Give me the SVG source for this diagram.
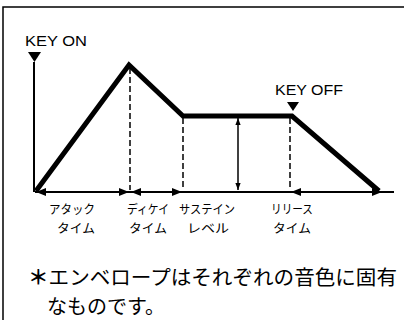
<svg xmlns="http://www.w3.org/2000/svg" width="404" height="320" viewBox="0 0 404 320">
  <style>
    .frame { fill: none; stroke: #000; stroke-width: 1.5; }
    .env { fill: none; stroke: #000; stroke-width: 5; stroke-linejoin: miter; stroke-linecap: butt; }
    .axis { fill: none; stroke: #000; stroke-width: 2; }
    .dash { fill: none; stroke: #000; stroke-width: 1.5; stroke-dasharray: 6 3; }
    .span { fill: none; stroke: #000; stroke-width: 2; marker-start: url(#ah); marker-end: url(#ah); }
    .vspan { fill: none; stroke: #000; stroke-width: 1.5; marker-start: url(#ahs); marker-end: url(#ahs); }
    .key { font-family: "Liberation Sans", "DejaVu Sans", sans-serif; font-size: 15px; fill: #000; }
    .lbl { font-family: "Noto Sans CJK JP", sans-serif; font-size: 12.5px; fill: #000; text-anchor: middle; }
    .note { font-family: "Noto Sans CJK JP", sans-serif; font-size: 20px; fill: #000; }
    .tri { fill: #000; }
  </style>
  <defs>
    <marker id="ah" viewBox="0 0 10 8" refX="10" refY="4" markerWidth="10" markerHeight="8" markerUnits="userSpaceOnUse" orient="auto-start-reverse">
      <path d="M0,0 L10,4 L0,8 z" fill="#000"/>
    </marker>
    <marker id="ahs" viewBox="0 0 8 8" refX="8" refY="4" markerWidth="7" markerHeight="7" markerUnits="userSpaceOnUse" orient="auto-start-reverse">
      <path d="M0,1 L8,4 L0,7 z" fill="#000"/>
    </marker>
  </defs>

  <g id="frame">
    <path class="frame" d="M3,320 L3,7 L404,7"/>
  </g>

  <g id="key-on">
    <text class="key" x="25" y="46" textLength="62" lengthAdjust="spacingAndGlyphs">KEY ON</text>
    <polygon class="tri" points="28,52 41,52 34.5,62"/>
  </g>

  <g id="key-off">
    <text class="key" x="275" y="95" textLength="68" lengthAdjust="spacingAndGlyphs">KEY OFF</text>
    <polygon class="tri" points="287,102 299,102 293,111"/>
  </g>

  <g id="envelope">
    <polyline class="env" points="36,191 129,65 183,116 292,116 379,191"/>
  </g>

  <g id="connectors">
    <line class="axis" x1="34" y1="62" x2="34" y2="192"/>
    <line class="axis" x1="35" y1="192" x2="394" y2="192"/>
    <line class="dash" x1="130" y1="68" x2="130" y2="190"/>
    <line class="dash" x1="183" y1="118" x2="183" y2="190"/>
    <line class="dash" x1="290" y1="118" x2="290" y2="190"/>
    <line class="span" x1="36" y1="192" x2="129" y2="192"/>
    <line class="span" x1="131" y1="192" x2="182" y2="192"/>
    <line class="span" x1="291" y1="192" x2="382" y2="192"/>
    <line class="vspan" x1="238" y1="118" x2="238" y2="190"/>
  </g>

  <g id="labels">
    <g id="attack">
      <text class="lbl" x="72" y="214" textLength="46" lengthAdjust="spacingAndGlyphs">アタック</text>
      <text class="lbl" x="76" y="233" textLength="38" lengthAdjust="spacingAndGlyphs">タイム</text>
    </g>
    <g id="decay">
      <text class="lbl" x="148" y="214" textLength="42" lengthAdjust="spacingAndGlyphs">ディケイ</text>
      <text class="lbl" x="148" y="233" textLength="38" lengthAdjust="spacingAndGlyphs">タイム</text>
    </g>
    <g id="sustain">
      <text class="lbl" x="207" y="214" textLength="56" lengthAdjust="spacingAndGlyphs">サステイン</text>
      <text class="lbl" x="208" y="233" textLength="42" lengthAdjust="spacingAndGlyphs">レベル</text>
    </g>
    <g id="release">
      <text class="lbl" x="292" y="214" textLength="42" lengthAdjust="spacingAndGlyphs">リリース</text>
      <text class="lbl" x="292" y="233" textLength="38" lengthAdjust="spacingAndGlyphs">タイム</text>
    </g>
  </g>

  <g id="note">
    <text class="note" x="28" y="285" textLength="369" lengthAdjust="spacingAndGlyphs"><tspan font-weight="bold">＊</tspan>エンベロープはそれぞれの音色に固有</text>
    <text class="note" x="47" y="314">なものです。</text>
  </g>
</svg>
